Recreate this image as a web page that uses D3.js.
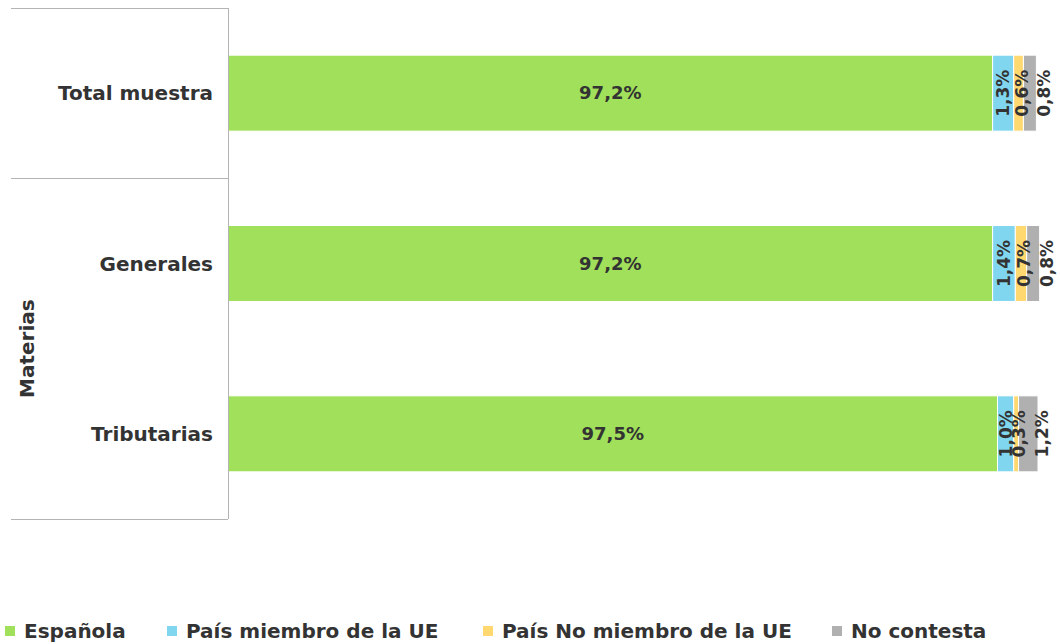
<!DOCTYPE html>
<html>
<head>
<meta charset="utf-8">
<script src="https://cdn.jsdelivr.net/npm/d3@7"></script>
<style>
  body { margin: 0; background: #fff; }
  text { font-family: "DejaVu Sans", Verdana, sans-serif; font-weight: bold; fill: #333; }
</style>
</head>
<body>
<div id="chart"></div>
<script>
const width = 1060
const height = 644

// data
const categories = ["Total muestra", "Generales", "Tributarias"]
const seriesNames = ["Española", "País miembro de la UE", "País No miembro de la UE", "No contesta"]
const espanola = [97.2, 97.2, 97.5]
const miembroUE = [1.3, 1.4, 1.0]
const noMiembroUE = [0.6, 0.7, 0.3]
const noContesta = [0.8, 0.8, 1.2]
const xDomain = [50, 100]

const colors = ["#A0E05A", "#80D6EE", "#FFD870", "#B0B0B0"]
const labelShift = [0, 0, 3, 14] // excel nudges the small labels apart

const values = [espanola, miembroUE, noMiembroUE, noContesta]

const svg = d3.select("#chart")
    .append("svg")
    .attr("width", width)
    .attr("height", height)

const x = d3.scaleLinear()
    .domain(xDomain)
    .range([228, 1038])

const y = d3.scaleBand()
    .domain(categories)
    .range([8, 519])
    .paddingInner(0.554)
    .paddingOuter(0.277)

// stack the segments per category
const rows = categories.map((c, i) => {
  let acc = 0
  return values.map((s, k) => {
    const seg = {cat: c, k: k, v: s[i], x0: acc, x1: acc + s[i]}
    acc += s[i]
    return seg
  })
})

// bars (start at axis min)
const segs = rows.flat()
svg.selectAll("rect.seg")
    .data(segs)
    .join("rect")
    .attr("class", "seg")
    .attr("x", d => x(Math.max(d.x0, xDomain[0])))
    .attr("width", d => x(Math.max(d.x1, xDomain[0])) - x(Math.max(d.x0, xDomain[0])))
    .attr("y", d => y(d.cat))
    .attr("height", y.bandwidth())
    .attr("fill", d => colors[d.k])
    .attr("stroke", "#fff")
    .attr("stroke-width", 1)

const fmt = v => v.toFixed(1).replace(".", ",") + "%"

// labels: big one horizontal, small ones rotated
segs.forEach(d => {
  const cx = (x(Math.max(d.x0, xDomain[0])) + x(d.x1)) / 2
  const cy = y(d.cat) + y.bandwidth() / 2
  if (d.k == 0) {
    svg.append("text")
        .attr("x", cx)
        .attr("y", cy)
        .attr("dy", "0.35em")
        .attr("text-anchor", "middle")
        .style("font-size", "18px")
        .text(fmt(d.v))
  } else {
    svg.append("text")
        .attr("transform", `translate(${cx + labelShift[d.k]},${cy}) rotate(-90)`)
        .attr("dy", "0.35em")
        .attr("text-anchor", "middle")
        .style("font-size", "17px")
        .text(fmt(d.v))
  }
})

// category axis, excel multi level style
const axisColor = "#B4B4B4"
svg.append("line")
    .attr("x1", 228.5).attr("x2", 228.5)
    .attr("y1", 8).attr("y2", 519)
    .attr("stroke", axisColor)
const sepYs = [8, y("Generales") - y.step() * y.paddingInner() / 2, 519]
sepYs.forEach(sy => {
  svg.append("line")
      .attr("x1", 11).attr("x2", 228)
      .attr("y1", Math.round(sy) + 0.5).attr("y2", Math.round(sy) + 0.5)
      .attr("stroke", axisColor)
})

categories.forEach(c => {
  svg.append("text")
      .attr("x", 213)
      .attr("y", y(c) + y.bandwidth() / 2)
      .attr("dy", "0.35em")
      .attr("text-anchor", "end")
      .style("font-size", "20px")
      .text(c)
})

svg.append("text")
    .attr("transform", `translate(27,${(sepYs[1] + 519) / 2}) rotate(-90)`)
    .attr("dy", "0.35em")
    .attr("text-anchor", "middle")
    .style("font-size", "20px")
    .text("Materias")

// legend
const legendX = [5, 167, 483, 832]
seriesNames.forEach((name, i) => {
  svg.append("rect")
      .attr("x", legendX[i])
      .attr("y", 626)
      .attr("width", 10)
      .attr("height", 10)
      .attr("fill", colors[i])
  svg.append("text")
      .attr("x", legendX[i] + 19)
      .attr("y", 631)
      .attr("dy", "0.35em")
      .style("font-size", "20px")
      .text(name)
})
</script>
</body>
</html>
